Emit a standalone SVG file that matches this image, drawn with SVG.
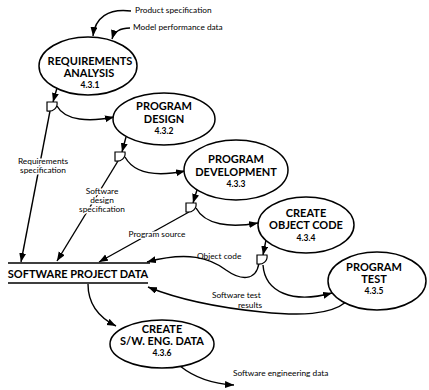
<svg xmlns="http://www.w3.org/2000/svg" width="429" height="390" viewBox="0 0 429 390">
<defs>
<marker id="ah" markerWidth="10" markerHeight="8" refX="9" refY="3.5" orient="auto" markerUnits="userSpaceOnUse">
<path d="M0,0 L9,3.5 L0,7 Z" fill="#000"/>
</marker>
<path id="split" d="M0,0 H10 C11,6 6,10 0,9 Z"/>
<style>
.n{fill:#fff;stroke:#000;stroke-width:1.5}
.t{font-family:Lato,"Open Sans","Liberation Sans",sans-serif;font-weight:bold;font-size:11px;text-anchor:middle;fill:#000}
.num{font-size:8.5px}
.l{font-family:Lato,"Open Sans","Liberation Sans",sans-serif;font-size:8.3px;fill:#000}
.c{text-anchor:middle}
.halo{paint-order:stroke;stroke:#fff;stroke-width:3;stroke-linejoin:round}
.cn{fill:none;stroke:#000;stroke-width:1.4;marker-end:url(#ah)}
.ln{fill:none;stroke:#000;stroke-width:1.4}
.sp{fill:#fff;stroke:#000;stroke-width:1.2}
</style>
</defs>
<rect width="429" height="390" fill="#fff"/>
<g id="connectors">
<path class="cn" d="M131,11 C108,8 95,18 93,36"/>
<path class="cn" d="M130,28 C120,28 114,32 112,39"/>
<path class="cn" d="M57,88 L53,102"/>
<path class="cn" d="M50,111 L21,262"/>
<path class="cn" d="M57,106 C65,121 90,122 114,117"/>
<path class="cn" d="M126,137 L122,152"/>
<path class="cn" d="M118,161 L57,261"/>
<path class="cn" d="M125,157 C135,175 160,176 185,171"/>
<path class="cn" d="M197,190 L193,203"/>
<path class="cn" d="M189,212 L99,262"/>
<path class="cn" d="M196,208 C205,225 230,228 258,223"/>
<path class="cn" d="M266,240 L263,255"/>
<path class="cn" d="M259,263 C256,282 240,280 226,270 C210,258 188,251 147,262"/>
<path class="cn" d="M263,265 C265,292 292,304 332,293"/>
<path class="cn" d="M346,302 C330,315 300,316 262,312 C222,308 180,300 148,287"/>
<path class="cn" d="M88,284 C88,302 96,316 116,326"/>
<path class="cn" d="M180,366 C195,378 215,384 234,385"/>
</g>
<g id="splitter1"><use href="#split" class="sp" x="47" y="102"/></g>
<g id="splitter2"><use href="#split" class="sp" x="115" y="152"/></g>
<g id="splitter3"><use href="#split" class="sp" x="186" y="203"/></g>
<g id="splitter4"><use href="#split" class="sp" x="257" y="255"/></g>
<g id="n431">
<ellipse class="n" cx="88" cy="66" rx="49" ry="29"/>
<text class="t" x="90" y="65">REQUIREMENTS</text>
<text class="t" x="89" y="77">ANALYSIS</text>
<text class="t num" x="90" y="88">4.3.1</text>
</g>
<g id="n432">
<ellipse class="n" cx="164" cy="119" rx="51" ry="26"/>
<text class="t" x="164" y="110">PROGRAM</text>
<text class="t" x="164" y="123">DESIGN</text>
<text class="t num" x="164" y="134">4.3.2</text>
</g>
<g id="n433">
<ellipse class="n" cx="236" cy="170" rx="52" ry="30"/>
<text class="t" x="236" y="163">PROGRAM</text>
<text class="t" x="236" y="176">DEVELOPMENT</text>
<text class="t num" x="236" y="187">4.3.3</text>
</g>
<g id="n434">
<ellipse class="n" cx="306" cy="225" rx="48" ry="28"/>
<text class="t" x="306" y="217">CREATE</text>
<text class="t" x="306" y="229">OBJECT CODE</text>
<text class="t num" x="306" y="241">4.3.4</text>
</g>
<g id="n435">
<ellipse class="n" cx="377" cy="281" rx="49" ry="29"/>
<text class="t" x="374" y="271">PROGRAM</text>
<text class="t" x="374" y="283">TEST</text>
<text class="t num" x="374" y="294">4.3.5</text>
</g>
<g id="n436">
<ellipse class="n" cx="162" cy="344" rx="52" ry="24"/>
<text class="t" x="162" y="333">CREATE</text>
<text class="t" x="162" y="345">S/W. ENG. DATA</text>
<text class="t num" x="162" y="356">4.3.6</text>
</g>
<g id="store">
<path class="ln" d="M8,263 H150 M8,283 H148"/>
<text class="t" x="78" y="278">SOFTWARE PROJECT DATA</text>
</g>
<g id="labels">
<text class="l" x="135" y="13">Product specification</text>
<text class="l" x="133" y="30">Model performance data</text>
<text class="l c halo" x="43" y="164">Requirements</text>
<text class="l c halo" x="43" y="173">specification</text>
<text class="l c halo" x="102" y="194">Software</text>
<text class="l c halo" x="102" y="203">design</text>
<text class="l c halo" x="102" y="212">specification</text>
<text class="l c halo" x="157" y="237">Program source</text>
<text class="l" x="197" y="259">Object code</text>
<text class="l" x="212" y="298">Software test</text>
<text class="l" x="262" y="308" style="text-anchor:end">results</text>
<text class="l" x="233" y="376">Software engineering data</text>
</g>
</svg>
